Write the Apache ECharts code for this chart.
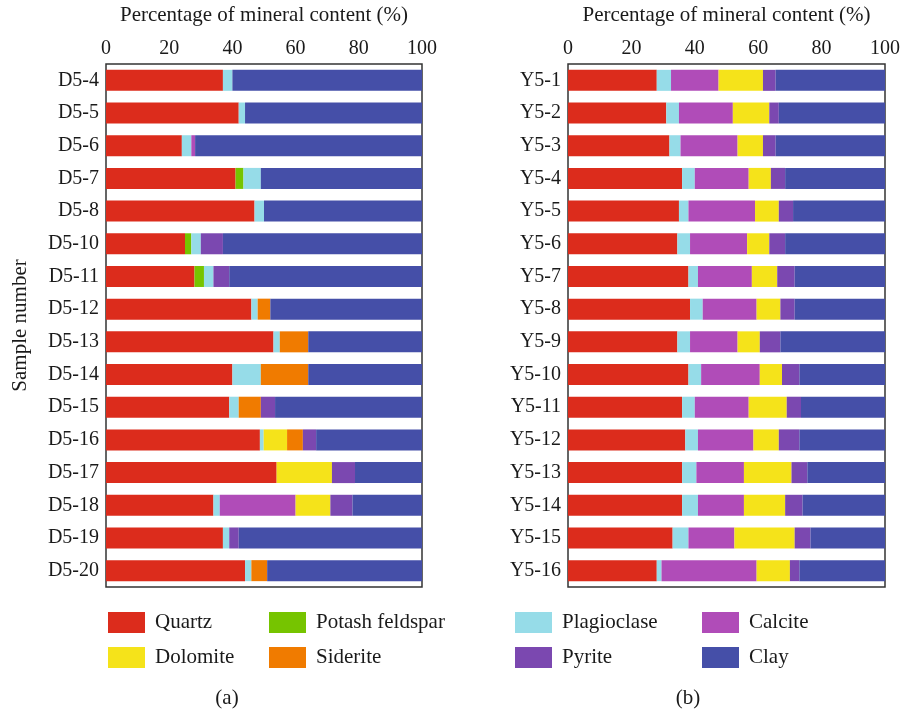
<!DOCTYPE html>
<html>
<head>
<meta charset="utf-8">
<script src="https://cdn.jsdelivr.net/npm/echarts@6/dist/echarts.min.js"></script>
<style>
  html, body { margin: 0; padding: 0; background: #fff; }
  #main { width: 903px; height: 712px; }
</style>
</head>
<body>
<div id="main"></div>
<script>
// categorias
var d5Samples = ['D5-4', 'D5-5', 'D5-6', 'D5-7', 'D5-8', 'D5-10', 'D5-11', 'D5-12', 'D5-13', 'D5-14', 'D5-15', 'D5-16', 'D5-17', 'D5-18', 'D5-19', 'D5-20'];
var y5Samples = ['Y5-1', 'Y5-2', 'Y5-3', 'Y5-4', 'Y5-5', 'Y5-6', 'Y5-7', 'Y5-8', 'Y5-9', 'Y5-10', 'Y5-11', 'Y5-12', 'Y5-13', 'Y5-14', 'Y5-15', 'Y5-16'];
var xTicks = [0, 20, 40, 60, 80, 100];

var minerals = ['Quartz', 'Potash feldspar', 'Plagioclase', 'Calcite', 'Dolomite', 'Siderite', 'Pyrite', 'Clay'];

// panel (a) D5
var d5Quartz    = [37, 42, 24, 41, 47, 25, 28, 46, 53, 40, 39, 48.7, 54, 34, 37, 44];
var d5Potash    = [0, 0, 0, 2.5, 0, 2, 3, 0, 0, 0, 0, 0, 0, 0, 0, 0];
var d5Plag      = [3, 2, 3, 5.5, 3, 3, 3, 2, 2, 9, 3, 1.2, 0, 2, 2, 2];
var d5Calcite   = [0, 0, 1.2, 0, 0, 0, 0, 0, 0, 0, 0, 0, 0, 24, 0, 0];
var d5Dolomite  = [0, 0, 0, 0, 0, 0, 0, 0, 0, 0, 0, 7.4, 17.5, 11, 0, 0];
var d5Siderite  = [0, 0, 0, 0, 0, 0, 0, 4, 9, 15, 7, 5, 0, 0, 0, 5];
var d5Pyrite    = [0, 0, 0, 0, 0, 7, 5, 0, 0, 0, 4.5, 4.2, 7.3, 7, 3, 0];
var d5Clay      = [60, 56, 71.8, 51, 50, 63, 61, 48, 36, 36, 46.5, 33.5, 21.2, 22, 58, 49];

// panel (b) Y5
var y5Quartz    = [28, 31, 32, 36, 35, 34.5, 38, 38.5, 34.5, 38, 36, 37, 36, 36, 33, 28];
var y5Potash    = [0, 0, 0, 0, 0, 0, 0, 0, 0, 0, 0, 0, 0, 0, 0, 0];
var y5Plag      = [4.5, 4, 3.5, 4, 3, 4, 3, 4, 4, 4, 4, 4, 4.5, 5, 5, 1.5];
var y5Calcite   = [15, 17, 18, 17, 21, 18, 17, 17, 15, 18.5, 17, 17.5, 15, 14.5, 14.5, 30];
var y5Dolomite  = [14, 11.5, 8, 7, 7.5, 7, 8, 7.5, 7, 7, 12, 8, 15, 13, 19, 10.5];
var y5Siderite  = [0, 0, 0, 0, 0, 0, 0, 0, 0, 0, 0, 0, 0, 0, 0, 0];
var y5Pyrite    = [4, 3, 4, 4.5, 4.5, 5, 5.5, 4.5, 6.5, 5.5, 4.5, 6.5, 5, 5.5, 5, 3];
var y5Clay      = [34.5, 33.5, 34.5, 31.5, 29, 31.5, 28.5, 28.5, 33, 27, 26.5, 27, 24.5, 26, 23.5, 27];

var colores = ['#dc2c1c', '#76c400', '#96dce8', '#b04cb8', '#f5e31a', '#f07b00', '#7b48b0', '#454fa8'];

var d5Data = [d5Quartz, d5Potash, d5Plag, d5Calcite, d5Dolomite, d5Siderite, d5Pyrite, d5Clay];
var y5Data = [y5Quartz, y5Potash, y5Plag, y5Calcite, y5Dolomite, y5Siderite, y5Pyrite, y5Clay];

var fuente = '"Liberation Serif", "DejaVu Serif", serif';
var texto = '#1a1a1a';

function hacerEjeX(idx) {
    return {
        gridIndex: idx,
        type: 'value',
        position: 'top',
        min: 0,
        max: 100,
        interval: 20,
        name: 'Percentage of mineral content (%)',
        nameLocation: 'middle',
        nameGap: 38,
        nameTextStyle: { fontFamily: fuente, fontSize: 21, color: texto },
        axisLine: { show: false },
        axisTick: { show: false },
        splitLine: { show: false },
        axisLabel: { fontFamily: fuente, fontSize: 20, color: texto, margin: 5 }
    };
}

function hacerEjeY(idx, cats, nombre) {
    return {
        gridIndex: idx,
        type: 'category',
        data: cats,
        inverse: true,
        name: nombre,
        nameLocation: 'middle',
        nameGap: 75,
        nameTextStyle: { fontFamily: fuente, fontSize: 21, color: texto },
        axisLine: { show: false },
        axisTick: { show: false },
        axisLabel: { fontFamily: fuente, fontSize: 20, color: texto, margin: 7 }
    };
}

var series = [];
minerals.forEach(function (m, i) {
    series.push({
        name: m, type: 'bar', stack: 'a', xAxisIndex: 0, yAxisIndex: 0,
        data: d5Data[i], barWidth: 21, itemStyle: { color: colores[i] }
    });
    series.push({
        name: m, type: 'bar', stack: 'b', xAxisIndex: 1, yAxisIndex: 1,
        data: y5Data[i], barWidth: 21, itemStyle: { color: colores[i] }
    });
});

// leyenda en 4 columnas
var columnas = [
    { left: 108, items: ['Quartz', 'Dolomite'] },
    { left: 269, items: ['Potash feldspar', 'Siderite'] },
    { left: 515, items: ['Plagioclase', 'Pyrite'] },
    { left: 702, items: ['Calcite', 'Clay'] }
];
var leyendas = columnas.map(function (c) {
    return {
        orient: 'vertical',
        left: c.left,
        top: 612,
        padding: 0,
        data: c.items,
        itemWidth: 37,
        itemHeight: 21,
        itemGap: 14,
        icon: 'rect',
        textStyle: { fontFamily: fuente, fontSize: 21, color: texto, padding: [0, 0, 0, 5] }
    };
});

var myChart = echarts.init(document.getElementById('main'), null, { renderer: 'canvas' });

var option = {
    backgroundColor: '#fff',
    animation: false,
    legend: leyendas,
    grid: [
        { left: 106, right: 481, top: 64, bottom: 125, show: true, borderColor: '#333', borderWidth: 1.5, backgroundColor: 'transparent' },
        { left: 568, right: 18, top: 64, bottom: 125, show: true, borderColor: '#333', borderWidth: 1.5, backgroundColor: 'transparent' }
    ],
    xAxis: [hacerEjeX(0), hacerEjeX(1)],
    yAxis: [hacerEjeY(0, d5Samples, 'Sample number'), hacerEjeY(1, y5Samples, '')],
    series: series,
    graphic: [
        { type: 'text', x: 227, y: 698, style: { text: '(a)', font: '21px ' + fuente, fill: texto, align: 'center', verticalAlign: 'middle' } },
        { type: 'text', x: 688, y: 698, style: { text: '(b)', font: '21px ' + fuente, fill: texto, align: 'center', verticalAlign: 'middle' } }
    ]
};

myChart.setOption(option);
</script>
</body>
</html>
